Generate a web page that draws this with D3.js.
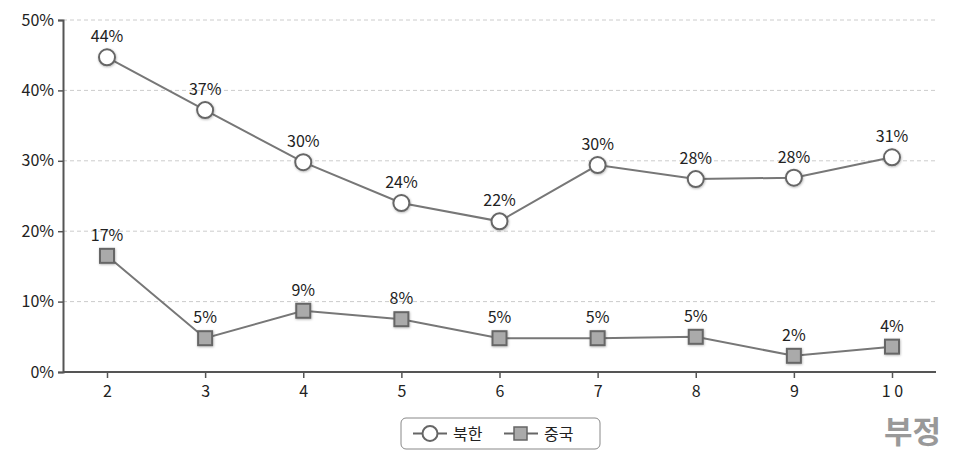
<!DOCTYPE html>
<html><head><meta charset="utf-8">
<script src="https://cdn.jsdelivr.net/npm/d3@7"></script>
<style>body{margin:0;background:#fff;font-family:"Noto Sans CJK KR","Noto Sans",sans-serif;}</style>
</head><body><svg id="c" width="953" height="454"></svg>
<script>
const categories = ["2","3","4","5","6","7","8","9","10"];
const tickLabels = ["2","3","4","5","6","7","8","9","1 0"];
const northKorea = [44.7,37.2,29.8,24.0,21.4,29.4,27.4,27.6,30.5];
const northKoreaLabels = ["44%","37%","30%","24%","22%","30%","28%","28%","31%"];
const china = [16.5,4.8,8.7,7.5,4.8,4.8,5.0,2.3,3.6];
const chinaLabels = ["17%","5%","9%","8%","5%","5%","5%","2%","4%"];
const yTicks = [0,10,20,30,40,50];
const seriesNames = ["북한","중국"];
const title = "부정";

const svg = d3.select("#c");
const defs = svg.append("defs");
const f = defs.append("filter").attr("id","sh").attr("x","-50%").attr("y","-50%").attr("width","200%").attr("height","200%");
f.append("feDropShadow").attr("dx",0.5).attr("dy",0.8).attr("stdDeviation",1).attr("flood-color","#000").attr("flood-opacity",0.3);

const L=63, R=936, T=20, B=372;
const x = d3.scalePoint().domain(categories).range([107,892]);
const y = d3.scaleLinear().domain([0,50]).range([B,T]);
const font = '"Noto Sans CJK KR","Noto Sans",sans-serif';

// grid
svg.append("g").selectAll("line").data(yTicks.filter(d=>d>0)).join("line")
  .attr("x1",L).attr("x2",R).attr("y1",d=>y(d)).attr("y2",d=>y(d))
  .attr("stroke","#ccc").attr("stroke-width",1).attr("stroke-dasharray","4,3");

// y axis
const ya = svg.append("g").attr("transform",`translate(${L},0)`)
  .call(d3.axisLeft(y).tickValues(yTicks).tickFormat(d=>d+"%").tickSize(5).tickPadding(4));
ya.select(".domain").attr("stroke","#555").attr("stroke-width",2);
ya.selectAll(".tick line").attr("stroke","#555").attr("stroke-width",1.5);
ya.selectAll("text").attr("font-size",16).attr("fill","#222").attr("font-family",font);

// x axis
const xa = svg.append("g").attr("transform",`translate(0,${B})`)
  .call(d3.axisBottom(x).tickFormat((d,i)=>tickLabels[i]).tickSize(6).tickSizeOuter(0).tickPadding(8));
xa.select(".domain").remove();
xa.append("line").attr("x1",L).attr("x2",R).attr("stroke","#555").attr("stroke-width",2);
xa.selectAll(".tick line").attr("stroke","#555").attr("stroke-width",1.5);
xa.selectAll("text").attr("font-size",16).attr("fill","#222").attr("font-family",font);

const line = d3.line().x((d,i)=>x(categories[i])).y(d=>y(d));
svg.append("path").datum(northKorea).attr("d",line).attr("fill","none").attr("stroke","#777").attr("stroke-width",2);
svg.append("path").datum(china).attr("d",line).attr("fill","none").attr("stroke","#777").attr("stroke-width",2);

svg.append("g").selectAll("circle").data(northKorea).join("circle")
  .attr("cx",(d,i)=>x(categories[i])).attr("cy",d=>y(d)).attr("r",8)
  .attr("fill","#fff").attr("stroke","#666").attr("stroke-width",2).attr("filter","url(#sh)");
svg.append("g").selectAll("rect").data(china).join("rect")
  .attr("x",(d,i)=>x(categories[i])-7).attr("y",d=>y(d)-7).attr("width",14).attr("height",14)
  .attr("fill","#aaa").attr("stroke","#666").attr("stroke-width",2).attr("filter","url(#sh)");

svg.append("g").selectAll("text").data(northKorea).join("text")
  .attr("x",(d,i)=>x(categories[i])).attr("y",d=>y(d)-15).attr("text-anchor","middle")
  .attr("font-size",16).attr("fill","#222").attr("font-family",font).text((d,i)=>northKoreaLabels[i]);
svg.append("g").selectAll("text").data(china).join("text")
  .attr("x",(d,i)=>x(categories[i])).attr("y",d=>y(d)-15).attr("text-anchor","middle")
  .attr("font-size",16).attr("fill","#222").attr("font-family",font).text((d,i)=>chinaLabels[i]);

// legend
const lg = svg.append("g").attr("transform","translate(401,418)");
lg.append("rect").attr("width",199).attr("height",31).attr("rx",5).attr("fill","#fff").attr("stroke","#888").attr("stroke-width",1);
lg.append("line").attr("x1",12).attr("x2",46).attr("y1",15.5).attr("y2",15.5).attr("stroke","#666").attr("stroke-width",2);
lg.append("circle").attr("cx",29).attr("cy",15.5).attr("r",7.5).attr("fill","#fff").attr("stroke","#666").attr("stroke-width",2);
lg.append("text").attr("x",52).attr("y",22).attr("font-size",16).attr("fill","#222").attr("font-family",font).text(seriesNames[0]);
lg.append("line").attr("x1",103).attr("x2",137).attr("y1",15.5).attr("y2",15.5).attr("stroke","#666").attr("stroke-width",2);
lg.append("rect").attr("x",113).attr("y",9).attr("width",13).attr("height",13).attr("fill","#aaa").attr("stroke","#666").attr("stroke-width",1.5);
lg.append("text").attr("x",143).attr("y",22).attr("font-size",16).attr("fill","#222").attr("font-family",font).text(seriesNames[1]);

svg.append("text").attr("x",941).attr("y",443).attr("text-anchor","end").attr("font-size",31).attr("font-weight","bold")
  .attr("fill","#999").attr("font-family",font).text(title);
</script></body></html>
